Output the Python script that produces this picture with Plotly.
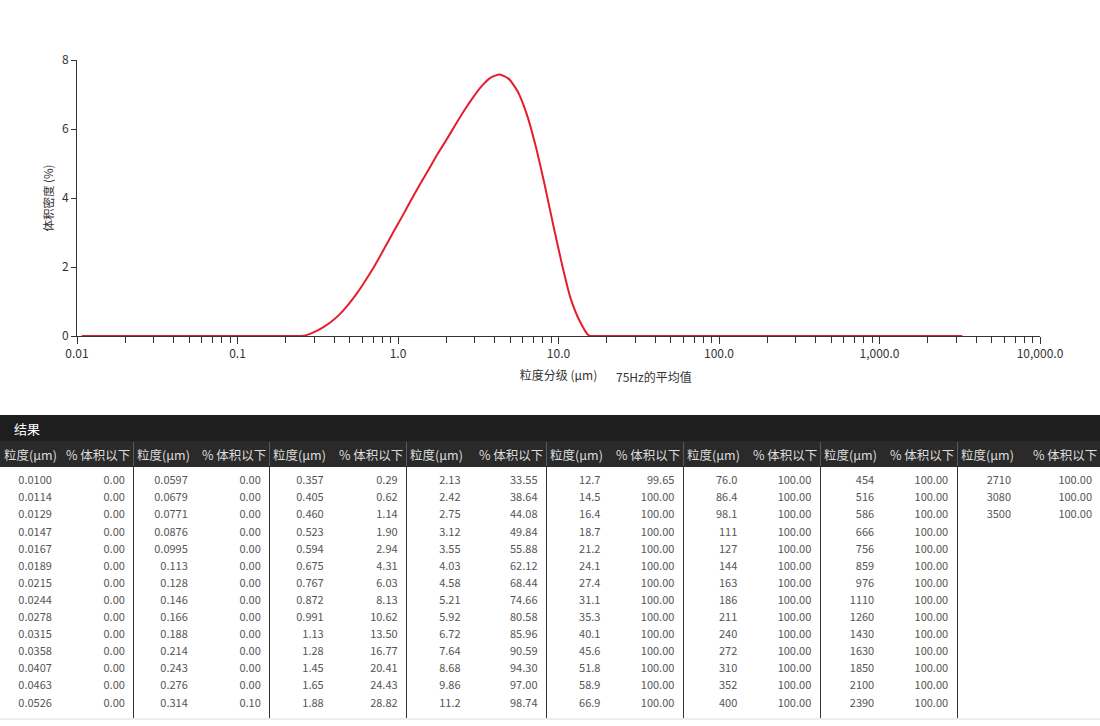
import plotly.graph_objects as go

W, H = 1100, 726

# ---------------- data ----------------
# volume density curve (bin centres, um) and density (%)
density_size = [0.0107, 0.228, 0.259, 0.295, 0.335, 0.380, 0.431, 0.490, 0.557, 0.633, 0.720,
                0.818, 0.930, 1.06, 1.20, 1.36, 1.55, 1.76, 2.00, 2.27, 2.58,
                2.93, 3.33, 3.78, 4.30, 4.88, 5.55, 6.31, 7.16, 8.14, 9.25,
                10.5, 11.9, 13.6, 15.4, 17.5, 3283]
density_pct = [0.00, 0.00, 0.01, 0.10, 0.23, 0.40, 0.62, 0.91, 1.25, 1.64, 2.06,
               2.52, 2.99, 3.46, 3.92, 4.37, 4.82, 5.27, 5.68, 6.11, 6.53,
               6.91, 7.25, 7.49, 7.58, 7.46, 7.10, 6.46, 5.56, 4.45, 3.24,
               2.09, 1.09, 0.42, 0.02, 0.00, 0.00]

# results table
size_labels = [
    "0.0100", "0.0114", "0.0129", "0.0147", "0.0167", "0.0189", "0.0215", "0.0244", "0.0278", "0.0315", "0.0358", "0.0407", "0.0463", "0.0526",
    "0.0597", "0.0679", "0.0771", "0.0876", "0.0995", "0.113", "0.128", "0.146", "0.166", "0.188", "0.214", "0.243", "0.276", "0.314",
    "0.357", "0.405", "0.460", "0.523", "0.594", "0.675", "0.767", "0.872", "0.991", "1.13", "1.28", "1.45", "1.65", "1.88",
    "2.13", "2.42", "2.75", "3.12", "3.55", "4.03", "4.58", "5.21", "5.92", "6.72", "7.64", "8.68", "9.86", "11.2",
    "12.7", "14.5", "16.4", "18.7", "21.2", "24.1", "27.4", "31.1", "35.3", "40.1", "45.6", "51.8", "58.9", "66.9",
    "76.0", "86.4", "98.1", "111", "127", "144", "163", "186", "211", "240", "272", "310", "352", "400",
    "454", "516", "586", "666", "756", "859", "976", "1110", "1260", "1430", "1630", "1850", "2100", "2390",
    "2710", "3080", "3500",
]
cum_below = [
    0.00, 0.00, 0.00, 0.00, 0.00, 0.00, 0.00, 0.00, 0.00, 0.00, 0.00, 0.00, 0.00, 0.00,
    0.00, 0.00, 0.00, 0.00, 0.00, 0.00, 0.00, 0.00, 0.00, 0.00, 0.00, 0.00, 0.00, 0.10,
    0.29, 0.62, 1.14, 1.90, 2.94, 4.31, 6.03, 8.13, 10.62, 13.50, 16.77, 20.41, 24.43, 28.82,
    33.55, 38.64, 44.08, 49.84, 55.88, 62.12, 68.44, 74.66, 80.58, 85.96, 90.59, 94.30, 97.00, 98.74,
    99.65, 100.00, 100.00, 100.00, 100.00, 100.00, 100.00, 100.00, 100.00, 100.00, 100.00, 100.00, 100.00, 100.00,
    100.00, 100.00, 100.00, 100.00, 100.00, 100.00, 100.00, 100.00, 100.00, 100.00, 100.00, 100.00, 100.00, 100.00,
    100.00, 100.00, 100.00, 100.00, 100.00, 100.00, 100.00, 100.00, 100.00, 100.00, 100.00, 100.00, 100.00, 100.00,
    100.00, 100.00, 100.00,
]
x_tickvals = [0.01, 0.1, 1, 10, 100, 1000, 10000]
x_ticktext = ["0.01", "0.1", "1.0", "10.0", "100.0", "1,000.0", "10,000.0"]
y_tickvals = [0, 2, 4, 6, 8]

FONT = "Noto Sans CJK SC, Noto Sans, sans-serif"
ROWS = 14
NGROUPS = 8

# ---------------- layout helpers ----------------
def px_x(p):
    return p / W

def px_y(p):
    return 1 - p / H

fig = go.Figure()

fig.add_trace(go.Scatter(
    x=density_size, y=density_pct, mode="lines",
    line=dict(color="#e41e2b", width=2, shape="spline", smoothing=0.6),
    xaxis="x", yaxis="y", showlegend=False, hoverinfo="x+y", cliponaxis=True,
))

# ---------------- table ----------------
group_left = [0, 133, 269, 406, 546, 683, 820, 957, 1100]
col_values, col_widths, col_align = [], [], []
for g in range(NGROUPS):
    s = size_labels[g * ROWS:(g + 1) * ROWS]
    v = ["%.2f" % c for c in cum_below[g * ROWS:(g + 1) * ROWS]]
    s += [""] * (ROWS - len(s))
    v += [""] * (ROWS - len(v))
    col_values += [s, v]
    gw = group_left[g + 1] - group_left[g]
    size_w = 60 if g == 0 else 63
    col_widths += [size_w, gw - size_w + (1 if g == NGROUPS - 1 else 0)]
    col_align += ["right", "right"]

fig.add_trace(go.Table(
    domain=dict(x=[0, 1], y=[0, px_y(464)]),
    columnwidth=col_widths,
    header=dict(values=[""] * (2 * NGROUPS), height=4,
                fill=dict(color="rgba(0,0,0,0)"), line=dict(color="rgba(0,0,0,0)", width=0),
                font=dict(family=FONT, size=2, color="#dddddd")),
    cells=dict(values=col_values, align=col_align, height=17.1,
               fill=dict(color="rgba(0,0,0,0)"), line=dict(color="rgba(0,0,0,0)", width=0),
               font=dict(family=FONT, size=11, color="#555555")),
))

shapes = [
    dict(type="rect", xref="paper", yref="paper", x0=0, x1=1, y0=px_y(441), y1=px_y(415),
         fillcolor="#1e1e1e", line=dict(width=0), layer="below"),
    dict(type="rect", xref="paper", yref="paper", x0=0, x1=1, y0=px_y(467), y1=px_y(441),
         fillcolor="#2a2a2a", line=dict(width=0), layer="below"),
    dict(type="line", xref="paper", yref="paper", x0=0, x1=1, y0=px_y(719), y1=px_y(719),
         line=dict(color="#dcdcdc", width=1), layer="below"),
]
annotations = [
    dict(text="结果", x=px_x(12), y=px_y(428), xref="paper", yref="paper",
         xanchor="left", yanchor="middle", showarrow=False,
         font=dict(family=FONT, size=13, color="white")),
    dict(text="75Hz的平均值", x=px_x(614), y=px_y(376), xref="paper", yref="paper",
         xanchor="left", yanchor="middle", showarrow=False,
         font=dict(family=FONT, size=12, color="#333333")),
]
for g in range(NGROUPS):
    L, R = group_left[g], group_left[g + 1]
    annotations.append(dict(text="粒度(μm)", x=px_x(L + 2), y=px_y(454), xref="paper", yref="paper",
                            xanchor="left", yanchor="middle", showarrow=False,
                            font=dict(family=FONT, size=12.5, color="#dddddd")))
    annotations.append(dict(text="% 体积以下", x=px_x(R - 1), y=px_y(454), xref="paper", yref="paper",
                            xanchor="right", yanchor="middle", showarrow=False,
                            font=dict(family=FONT, size=12.5, color="#dddddd")))
for g in range(1, NGROUPS):
    xg = px_x(group_left[g] + 0.5)
    shapes.append(dict(type="line", xref="paper", yref="paper", x0=xg, x1=xg,
                       y0=px_y(718), y1=px_y(467), line=dict(color="#333333", width=1), layer="below"))
    shapes.append(dict(type="line", xref="paper", yref="paper", x0=xg, x1=xg,
                       y0=px_y(466), y1=px_y(442), line=dict(color="#5a5a5a", width=1), layer="below"))

minor_vals = [k * 10 ** d for d in range(-2, 4) for k in range(2, 10)]

fig.update_layout(
    width=W, height=H, autosize=False,
    margin=dict(l=0, r=0, t=0, b=0, pad=0),
    paper_bgcolor="white", plot_bgcolor="white",
    font=dict(family=FONT, size=12, color="#333333"),
    xaxis=dict(
        type="log", range=[-2, 4], domain=[px_x(77), px_x(1040)], anchor="y", automargin=False,
        tickvals=x_tickvals, ticktext=x_ticktext,
        ticks="outside", ticklen=7, tickcolor="#333333", tickwidth=1,
        showline=True, linecolor="#333333", linewidth=1,
        showgrid=False, zeroline=False,
        tickfont=dict(size=12, color="#333333"),
        minor=dict(tickvals=minor_vals, ticks="outside", ticklen=6, tickcolor="#333333", showgrid=False),
        title=dict(text="粒度分级 (μm)", font=dict(size=12, color="#333333"), standoff=11),
    ),
    yaxis=dict(
        range=[0, 8], domain=[px_y(336), px_y(60)], anchor="x", automargin=False,
        tickvals=y_tickvals, ticks="outside", ticklen=5, tickcolor="#333333",
        showline=True, linecolor="#333333", linewidth=1,
        showgrid=False, zeroline=False,
        tickfont=dict(size=12, color="#333333"),
        title=dict(text="体积密度 (%)", font=dict(size=11.5, color="#333333"), standoff=5),
    ),
    shapes=shapes,
    annotations=annotations,
)

fig.write_html(
    "out.html",
    config={"displayModeBar": False},
    post_script="document.body.style.margin='0px';document.documentElement.style.overflow='hidden';",
)
